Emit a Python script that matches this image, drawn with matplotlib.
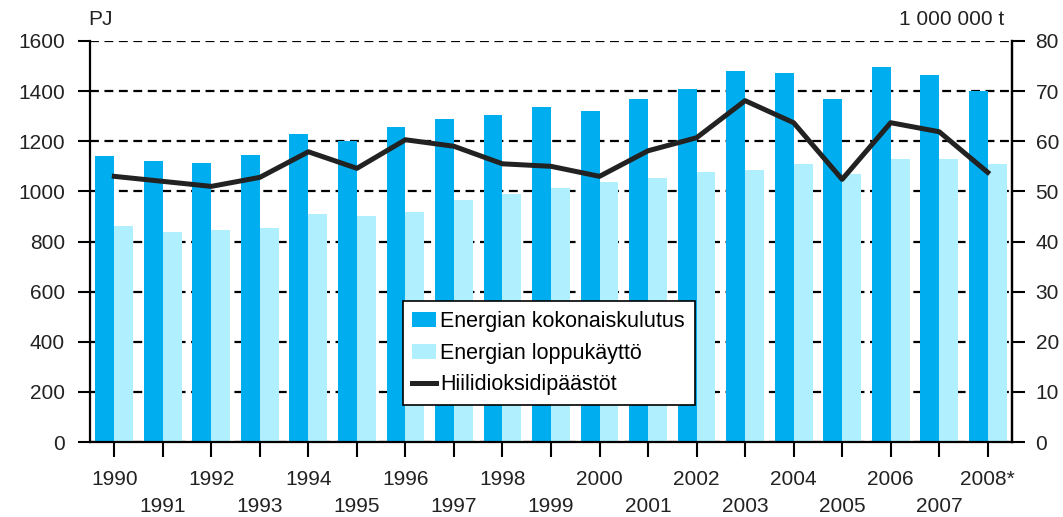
import matplotlib.pyplot as plt
import numpy as np
from matplotlib.patches import Patch
from matplotlib.lines import Line2D

plt.rcParams['font.family'] = ['Liberation Sans', 'DejaVu Sans']

# Data (PJ and million tonnes)
years = ['1990', '1991', '1992', '1993', '1994', '1995', '1996', '1997', '1998', '1999',
         '2000', '2001', '2002', '2003', '2004', '2005', '2006', '2007', '2008*']
total_use = [1140, 1123, 1115, 1147, 1227, 1203, 1258, 1290, 1306, 1338,
             1322, 1370, 1409, 1481, 1473, 1370, 1497, 1465, 1401]
final_use = [861, 838, 846, 854, 909, 901, 917, 965, 988, 1012,
             1036, 1052, 1076, 1084, 1108, 1068, 1131, 1131, 1108]
co2 = [53.0, 52.0, 51.0, 52.8, 57.9, 54.6, 60.3, 59.0, 55.5, 55.0,
       53.0, 58.1, 60.7, 68.1, 63.7, 52.4, 63.7, 61.9, 53.8]

dark = '#00aeef'
light = '#b0f0fe'
text_col = '#222222'

fig = plt.figure(figsize=(10.63, 5.17), dpi=100)
ax = fig.add_axes([0.0847, 0.145, 0.8673, 0.7757])
x = np.arange(len(years))
w = 0.39

ax.bar(x - w / 2, total_use, w, color=dark, zorder=2)
ax.bar(x + w / 2, final_use, w, color=light, zorder=2)

ax.set_xlim(-0.5, len(years) - 0.5)
ax.set_ylim(0, 1600)
ax.set_yticks(range(0, 1601, 200))
ax.grid(axis='y', color='black', linestyle=(0, (4, 2.5)), linewidth=1.6)
ax.set_axisbelow(True)

ax.set_xticks(x)
ax.set_xticklabels([y if i % 2 == 0 else '\n' + y for i, y in enumerate(years)],
                   linespacing=1.55)

ax.spines['top'].set_visible(False)
for s in ['left', 'bottom', 'right']:
    ax.spines[s].set_linewidth(1.6)
ax.tick_params(axis='both', direction='out', length=9, width=1.5,
               labelsize=15, colors='black', labelcolor=text_col)
ax.tick_params(axis='x', length=11, pad=9)
ax.tick_params(axis='y', pad=9)

ax2 = ax.twinx()
ax2.plot(x, co2, color='#222222', linewidth=3.6, solid_joinstyle='round')
ax2.set_ylim(0, 80)
ax2.set_yticks(range(0, 81, 10))
ax2.spines['top'].set_visible(False)
ax2.spines['right'].set_linewidth(1.6)
ax2.spines['left'].set_visible(False)
ax2.spines['bottom'].set_visible(False)
ax2.tick_params(axis='y', direction='out', length=9, width=1.5,
                labelsize=15, labelcolor=text_col, pad=8)

handles = [Patch(facecolor=dark, edgecolor='none'),
           Patch(facecolor=light, edgecolor='none'),
           Line2D([0], [0], color='#222222', linewidth=3.6)]
labels = ['Energian kokonaiskulutus', 'Energian loppukäyttö', 'Hiilidioksidipäästöt']
leg = ax2.legend(handles, labels, loc='lower left', bbox_to_anchor=(0.339, 0.092),
                 borderaxespad=0, fontsize=15.5, frameon=True, fancybox=False,
                 edgecolor='black', handlelength=1.1, handletextpad=0.2,
                 labelspacing=0.5, borderpad=0.45)
leg.get_frame().set_linewidth(1.2)
leg.get_frame().set_alpha(1)

fig.text(0.083, 0.962, 'PJ', fontsize=15, color=text_col, ha='left', va='center')
fig.text(0.945, 0.962, '1 000 000 t', fontsize=15, color=text_col, ha='right', va='center')

fig.savefig('out.png', dpi=100)
